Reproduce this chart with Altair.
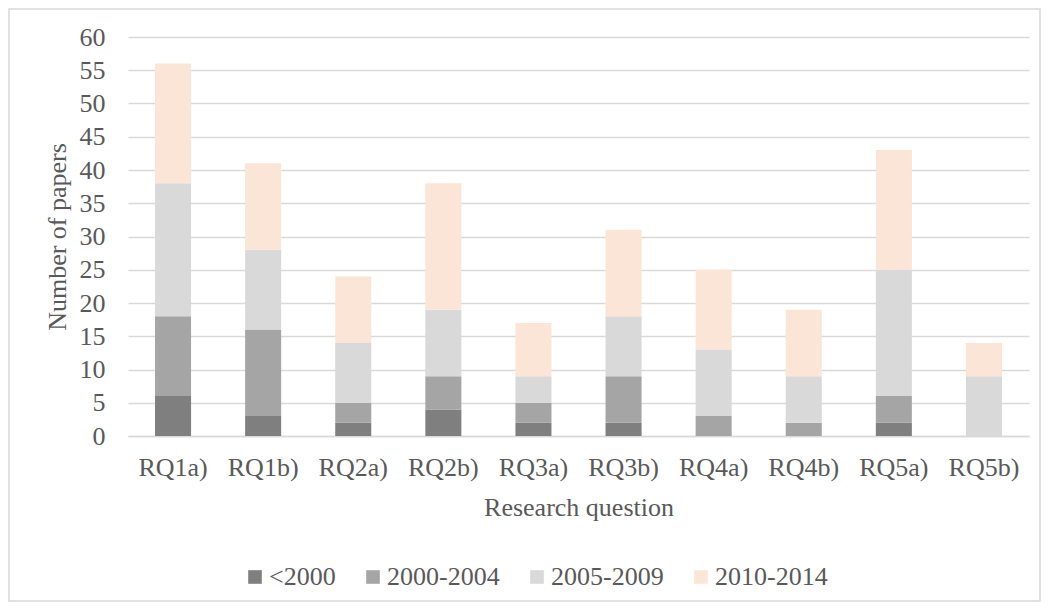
import altair as alt
import pandas as pd

categories = ["RQ1a)", "RQ1b)", "RQ2a)", "RQ2b)", "RQ3a)", "RQ3b)", "RQ4a)", "RQ4b)", "RQ5a)", "RQ5b)"]
series = ["<2000", "2000-2004", "2005-2009", "2010-2014"]
lt2000 = [6, 3, 2, 4, 2, 2, 0, 0, 2, 0]
y2000_2004 = [12, 13, 3, 5, 3, 7, 3, 2, 4, 0]
y2005_2009 = [20, 12, 9, 10, 4, 9, 10, 7, 19, 9]
y2010_2014 = [18, 13, 10, 19, 8, 13, 12, 10, 18, 5]
colors = ["#7f7f7f", "#a5a5a5", "#d9d9d9", "#fbe5d6"]

rows = []
for si, (name, vals) in enumerate(zip(series, [lt2000, y2000_2004, y2005_2009, y2010_2014])):
    for c, v in zip(categories, vals):
        rows.append({"cat": c, "series": name, "value": v, "ord": si})
df = pd.DataFrame(rows)

FONT = "Liberation Serif"
TXT = "#595959"
FS = 26

bars = alt.Chart(df).mark_bar().encode(
    x=alt.X("cat:N", sort=categories, title="Research question",
            scale=alt.Scale(paddingInner=0.6, paddingOuter=0.3),
            axis=alt.Axis(labelAngle=0, ticks=False, domainColor="#d9d9d9", domainWidth=1.5,
                          labelPadding=18, titlePadding=14)),
    y=alt.Y("value:Q", stack="zero", title="Number of papers",
            scale=alt.Scale(domain=[0, 60], nice=False),
            axis=alt.Axis(values=list(range(0, 61, 5)), ticks=False, domain=False,
                          labelPadding=23, titlePadding=9, gridColor="#d9d9d9", gridWidth=1.5)),
    color=alt.Color("series:N", scale=alt.Scale(domain=series, range=colors),
                    legend=alt.Legend(title=None, orient="none", direction="horizontal",
                                      legendX=114, legendY=527, symbolType="square",
                                      symbolSize=185, symbolStrokeWidth=0, labelOffset=1,
                                      columnPadding=24)),
    order=alt.Order("ord:Q", sort="ascending"),
)

border = alt.Chart(alt.Data(values=[{"a": 1}])).mark_rect(
    fill=None, stroke="#d9d9d9", strokeWidth=1.5
).encode(x=alt.value(-119), x2=alt.value(912), y=alt.value(-28), y2=alt.value(564))

chart = alt.layer(bars, border).properties(
    width=901, height=399,
    autosize=alt.AutoSizeParams(type="none"),
    padding={"left": 120, "top": 29, "right": 12, "bottom": 166},
).configure_view(stroke=None).configure_axis(
    labelFont=FONT, titleFont=FONT, labelFontSize=FS, titleFontSize=FS,
    labelColor=TXT, titleColor=TXT, titleFontWeight="normal"
).configure_legend(
    labelFont=FONT, labelFontSize=FS, labelColor=TXT
)

chart.save("out.html", embed_options={"renderer": "svg", "actions": False})
